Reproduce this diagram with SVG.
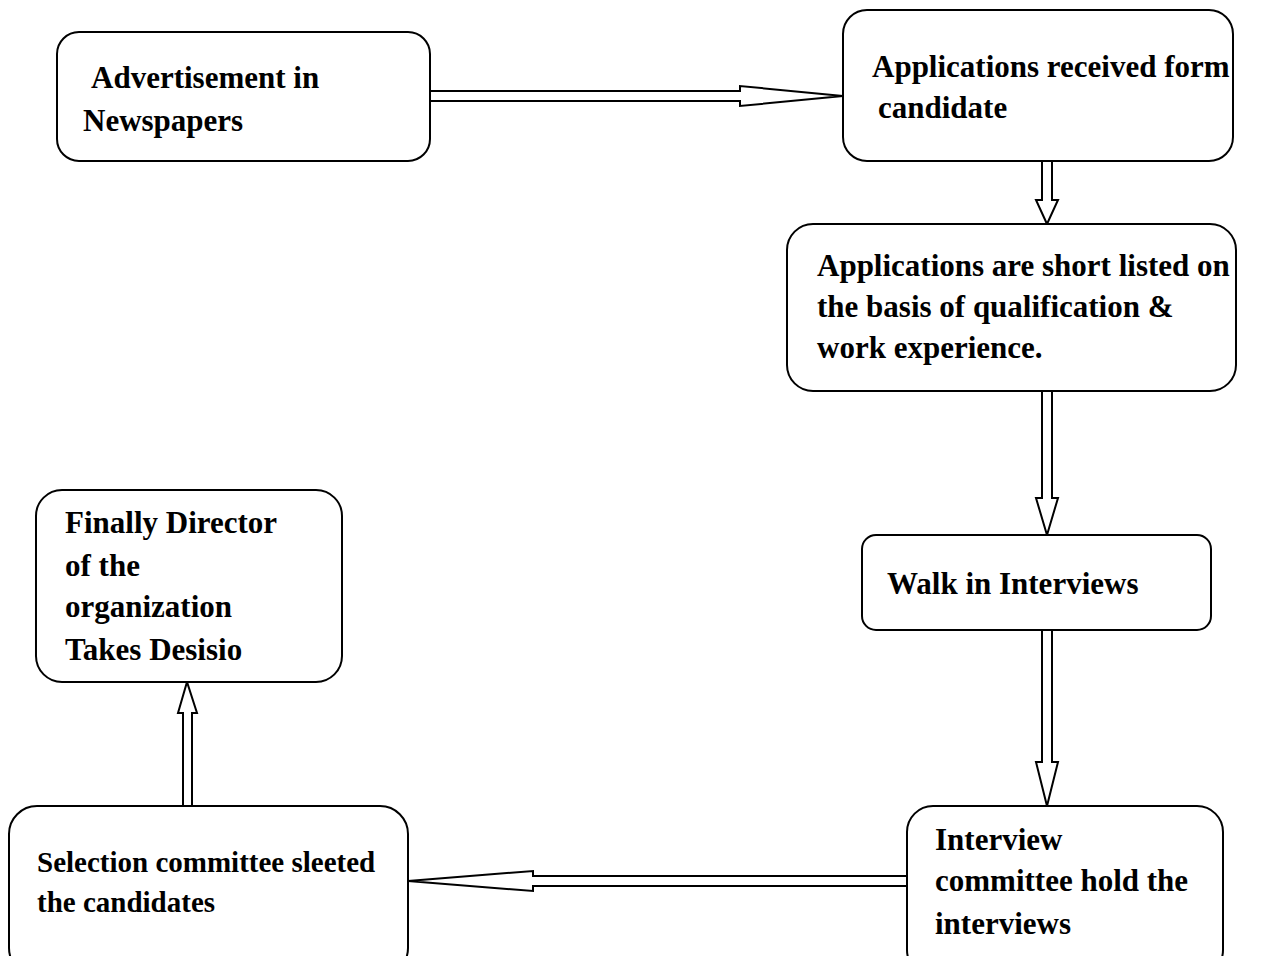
<svg xmlns="http://www.w3.org/2000/svg" width="1262" height="956" viewBox="0 0 1262 956">
<style>
.box{fill:#fff;stroke:#000;stroke-width:2}
.arr{fill:#fff;stroke:#000;stroke-width:2;stroke-linejoin:miter}
text{font-family:"Liberation Serif","Times New Roman",serif;font-weight:bold;font-size:31px;fill:#000}
.sm{font-size:29px}
</style>
<rect width="1262" height="956" fill="#fff"/>
<g id="connectors">
<polygon class="arr" points="430,91 740,91 740,86 843,96 740,106 740,101 430,101"/>
<polygon class="arr" points="1042,161 1052,161 1052,200 1058,200 1047,224 1036,200 1042,200"/>
<polygon class="arr" points="1042,391 1052,391 1052,498 1058,498 1047,535 1036,498 1042,498"/>
<polygon class="arr" points="1042,630 1052,630 1052,762 1058,762 1047,806 1036,762 1042,762"/>
<polygon class="arr" points="907,876 533,876 533,871 408,881 533,891 533,886 907,886"/>
<polygon class="arr" points="183,806 192,806 192,713 197,713 187,682 178,713 183,713"/>
</g>
<g id="n1">
<rect class="box" x="57" y="32" width="373" height="129" rx="22"/>
<text x="91" y="88">Advertisement in</text>
<text x="83" y="131">Newspapers</text>
</g>
<g id="n2">
<rect class="box" x="843" y="10" width="390" height="151" rx="24"/>
<text x="872" y="77">Applications received form</text>
<text x="878" y="118">candidate</text>
</g>
<g id="n3">
<rect class="box" x="787" y="224" width="449" height="167" rx="26"/>
<text x="817" y="276">Applications are short listed on</text>
<text x="817" y="317">the basis of qualification &amp;</text>
<text x="817" y="358">work experience.</text>
</g>
<g id="n4">
<rect class="box" x="862" y="535" width="349" height="95" rx="14"/>
<text x="887" y="594">Walk in Interviews</text>
</g>
<g id="n5">
<rect class="box" x="907" y="806" width="316" height="170" rx="26"/>
<text x="935" y="850">Interview</text>
<text x="935" y="891">committee hold the</text>
<text x="935" y="934">interviews</text>
</g>
<g id="n6">
<rect class="box" x="9" y="806" width="399" height="170" rx="28"/>
<text class="sm" x="37" y="872">Selection committee sleeted</text>
<text class="sm" x="37" y="912">the candidates</text>
</g>
<g id="n7">
<rect class="box" x="36" y="490" width="306" height="192" rx="26"/>
<text x="65" y="533">Finally Director</text>
<text x="65" y="576">of the</text>
<text x="65" y="617">organization</text>
<text x="65" y="660">Takes Desisio</text>
</g>
</svg>
